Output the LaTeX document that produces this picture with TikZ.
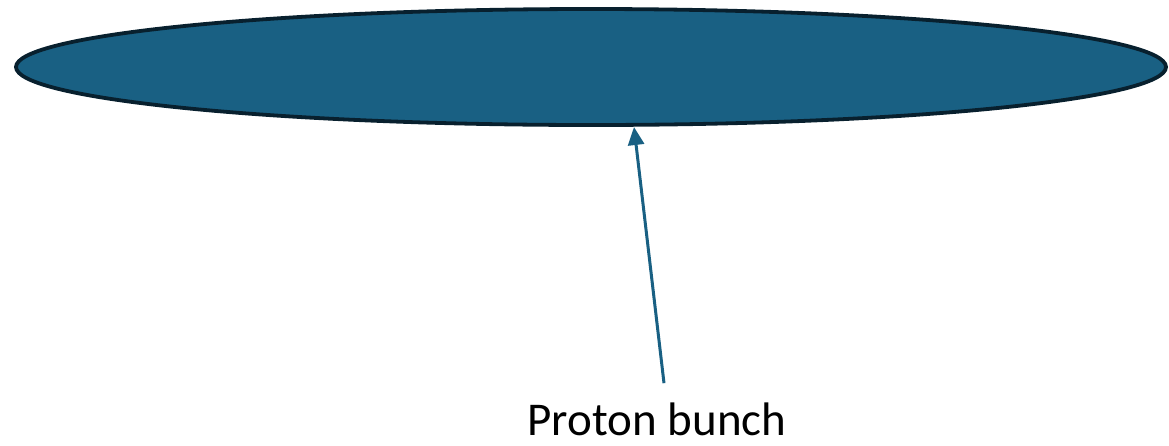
\documentclass[tikz,border=0pt]{standalone}
\usepackage{fontspec}
\setmainfont{Carlito}
\usepackage{xcolor}
\usepackage{tikz}
\usetikzlibrary{shapes.geometric,arrows.meta,positioning}

\definecolor{bunchblue}{RGB}{25,96,131}
\definecolor{bunchedge}{RGB}{8,32,46}

\begin{document}
\begin{tikzpicture}[x=1pt,y=-1pt,
    bunchshape/.style={ellipse,draw=bunchedge,fill=bunchblue,line width=3.8pt,
      minimum width=1150pt,minimum height=116pt,inner sep=0pt},
    pointer/.style={draw=bunchblue,line width=3pt,
      -{Triangle[length=18pt,width=16pt]}},
    caption/.style={font=\fontsize{47}{56}\selectfont,inner sep=0pt}]
        \useasboundingbox (0,0) rectangle (1169,445);
        \node[bunchshape] (bunch) at (591,67) {};
        \coordinate (tip) at (634,127);
        \node[caption,anchor=base] (label) at (657,435) {Proton bunch};
        \draw[pointer] ([xshift=7pt,yshift=19pt]label.north) -- (tip);
      \end{tikzpicture}
\end{document}
